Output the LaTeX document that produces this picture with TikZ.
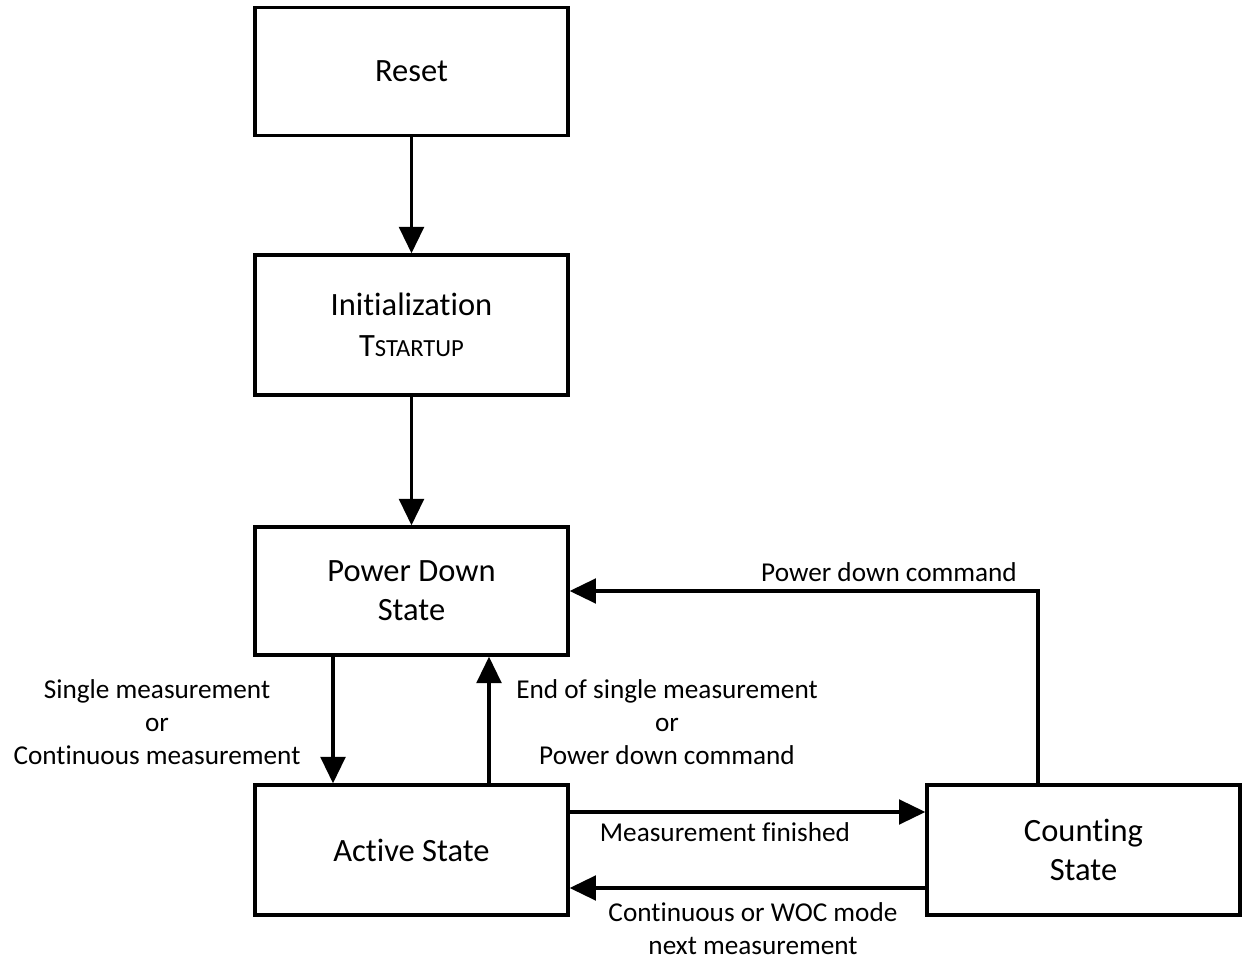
\documentclass[tikz,border=0pt]{standalone}
\usepackage{fontspec}
\setmainfont{Carlito}[Ligatures=NoCommon]
\usepackage{tikz}
\usetikzlibrary{arrows.meta}

\tikzset{
  statebox/.style={draw, line width=1.9pt, minimum width=6.26cm, minimum height=2.56cm,
    align=center, font=\fontsize{18.5}{22}\selectfont},
  trans/.style={line width=1.9pt, -{Triangle[length=15pt,width=14pt]}},
  lbl/.style={align=center, font=\fontsize{15.5}{18.7}\selectfont, inner sep=0pt}
}

\begin{document}
\begin{tikzpicture}[x=0.02cm, y=-0.02cm]
    \useasboundingbox (0,0) rectangle (1242,962);
    \node[statebox] (reset) at (411.5,71.5) {Reset};
    \node[statebox, minimum height=2.8cm] (init) at (411.5,325)
      {Initialization\\[1pt]T{\fontsize{14}{17}\selectfont STARTUP}};
    \node[statebox] (pd) at (411.5,591) {Power Down\\State};
    \node[statebox, minimum height=2.6cm] (active) at (411.5,850) {Active State};
    \node[statebox, minimum height=2.6cm] (count) at (1083.5,850) {Counting\\State};
    \coordinate (corner) at (1038,591);
    \draw[trans] (reset) -- (init);
    \draw[trans] (init) -- (pd);
    \draw[trans] (pd.south -| 333,0) -- (active.north -| 333,0);
    \draw[trans] (active.north -| 489,0) -- (pd.south -| 489,0);
    \draw[trans] (count.north -| corner) -- (corner) -- (pd.east);
    \draw[trans] (active.east |- 0,812) -- (count.west |- 0,812);
    \draw[trans] (count.west |- 0,888) -- (active.east |- 0,888);
    \node[lbl] (lsingle) at (157,722) {Single measurement\\or\\Continuous measurement};
    \node[lbl] (lend) at (667,722) {End of single measurement\\or\\Power down command};
    \node[lbl] (lpower) at (889,572) {Power down command};
    \node[lbl] (lfinish) at (725,832) {Measurement finished};
    \node[lbl] (lnext) at (753,929) {Continuous or WOC mode\\next measurement};
  \end{tikzpicture}
\end{document}
